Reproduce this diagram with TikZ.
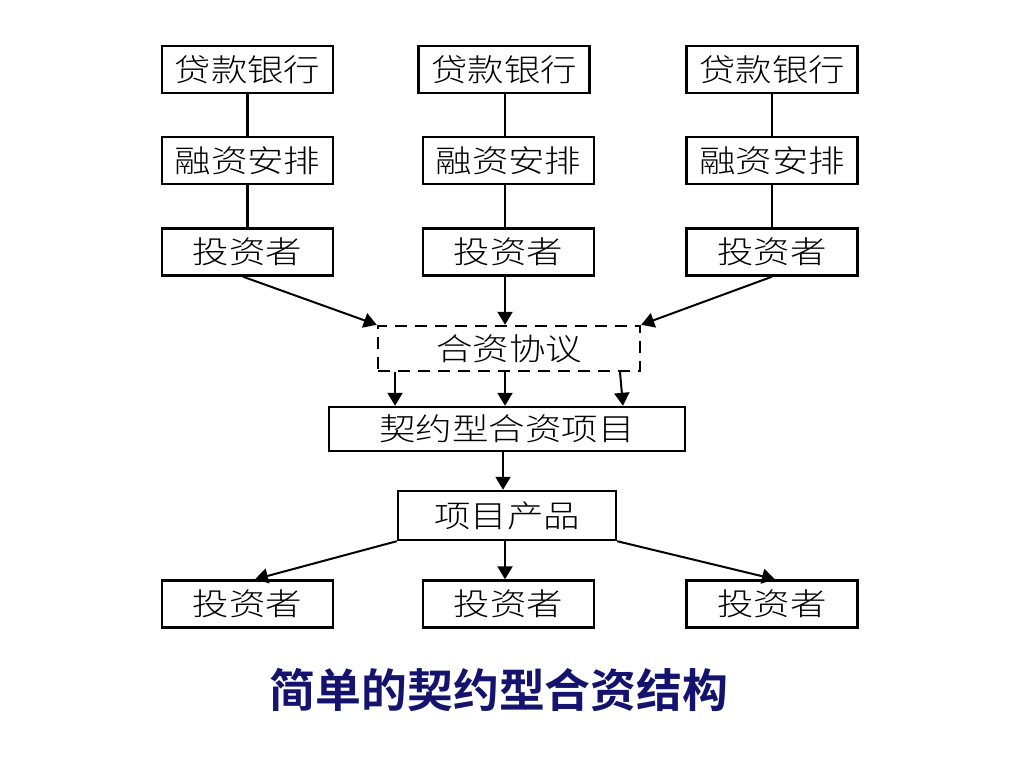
\documentclass[tikz,border=0pt]{standalone}
\usepackage{fontspec}
\usepackage{tikz}
\usetikzlibrary{arrows,arrows.meta}
\newfontfamily\cjk[FakeStretch=1.18]{Noto Sans CJK SC Light}
\newfontfamily\cjkbold{Noto Sans CJK SC Bold}
\definecolor{titleblue}{RGB}{20,20,110}

\begin{document}
\begin{tikzpicture}[x=1bp,y=-1bp,->,>={Triangle[width=15bp,length=13bp]},line width=2bp,
main node/.style={rectangle,draw,line width=2.4bp,inner sep=0pt,minimum width=171bp,minimum height=47bp,font=\cjk\fontsize{31}{31}\selectfont},
link/.style={-,line width=2.6bp}]
\useasboundingbox (0,0) rectangle (1024,768);

% top three columns
\node[main node] (bank1) at (247.5,69.5) {贷款银行};
\node[main node] (bank2) at (504,69.5) {贷款银行};
\node[main node] (bank3) at (772,69.5) {贷款银行};
\node[main node] (fin1) at (247.5,160.5) {融资安排};
\node[main node] (fin2) at (508.5,160.5) {融资安排};
\node[main node] (fin3) at (772,160.5) {融资安排};
\node[main node] (inv1) at (247.5,252) {投资者};
\node[main node] (inv2) at (508.5,252) {投资者};
\node[main node] (inv3) at (772,252) {投资者};

% middle part
\node[main node,dash pattern=on 12bp off 8bp,minimum width=262bp,minimum height=45bp] (deal) at (509,348.5) {合资协议};
\node[main node,minimum width=356bp,minimum height=44bp] (jv) at (507,429) {契约型合资项目};
\node[main node,minimum width=218bp,minimum height=49bp] (prod) at (507,515.5) {项目产品};

% bottom investors
\node[main node] (out1) at (247.5,604) {投资者};
\node[main node] (out2) at (508.5,604) {投资者};
\node[main node] (out3) at (772,604) {投资者};

\node[font=\cjkbold\fontsize{46}{46}\selectfont,text=titleblue] (title) at (499,690) {简单的契约型合资结构};

\draw[link] (bank1) -- (fin1);
\draw[link] (fin1) -- (inv1);
\draw[link] (505,93) -- (505,137);
\draw[link] (fin2.south-|505,0) -- (inv2.north-|505,0);
\draw[link,line width=1.6bp] (bank3) -- (fin3);
\draw[link,line width=1.6bp] (fin3) -- (inv3);

\draw (inv1.south-|243,0) -- (deal.north west);
\draw (inv2.south-|505,0) -- (deal.north-|505,0);
\draw (inv3.south-|772,0) -- (deal.north east);

\draw (deal.south-|395,0) -- (jv.north-|395,0);
\draw (deal.south-|505,0) -- (jv.north-|505,0);
\draw (deal.south-|620,0) -- (jv.north-|623,0);

\draw (jv.south-|503,0) -- (prod.north-|503,0);

\draw (prod.south west) -- (out1.north-|255,0);
\draw (prod.south-|505,0) -- (out2.north-|505,0);
\draw (prod.south east) -- (out3.north-|775,0);

\end{tikzpicture}
\end{document}
